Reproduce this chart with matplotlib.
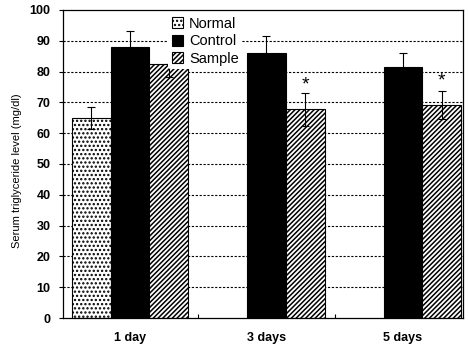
import matplotlib
matplotlib.use("Agg")
import matplotlib.pyplot as plt
import numpy as np

plt.rcParams['font.family'] = ['Liberation Sans', 'DejaVu Sans']
plt.rcParams['hatch.linewidth'] = 1.1

days = ["1 day", "3 days", "5 days"]
normal_val = [64.9]
normal_err = [3.6]
control_val = [88.1, 85.9, 81.4]
control_err = [5.0, 5.8, 4.5]
sample_val = [82.5, 67.8, 69.1]
sample_err_lo = [4.2, 5.4, 4.5]
sample_err_hi = [0.0, 5.4, 4.6]
star_y = [None, 75.8, 76.8]

fig = plt.figure(figsize=(4.69, 3.48), dpi=100)
ax = fig.add_axes([0.1343, 0.0862, 0.8529, 0.8851])

w = 0.2835
x = np.arange(len(days))

ekw = dict(ecolor='black', elinewidth=0.8, capsize=3, capthick=0.8)
ax.bar(x[:1] - w, normal_val, w, yerr=normal_err, color='white', edgecolor='black',
       hatch='....', linewidth=0.8, label='Normal', error_kw=ekw, zorder=2)
ax.bar(x, control_val, w, yerr=control_err, color='black', edgecolor='black',
       linewidth=0.8, label='Control', error_kw=ekw, zorder=2)
ax.bar(x + w, sample_val, w, yerr=[sample_err_lo, sample_err_hi], color='white', edgecolor='black',
       hatch='///////', linewidth=0.8, label='Sample', error_kw=ekw, zorder=2)

for xi, sy in zip(x, star_y):
    if sy is not None:
        ax.text(xi + w, sy, '*', ha='center', va='center', fontsize=14)

ax.set_ylim(0, 100)
ax.set_xlim(-0.491, 2.44)
ax.set_yticks(range(0, 101, 10))
ax.set_yticklabels([str(v) for v in range(0, 101, 10)], fontsize=9, fontweight='bold')
ax.set_xticks(x)
ax.set_xticklabels(days, fontsize=9, fontweight='bold')
ax.tick_params(axis='x', length=0, pad=10)
ax.tick_params(axis='y', length=3, width=0.8, direction='out', pad=6)
ax.set_xticks([0.5, 1.5], minor=True)
ax.tick_params(axis='x', which='minor', length=3, width=0.8, direction='in')

for yv in range(10, 100, 10):
    ax.axhline(yv, color='black', lw=0.8, ls=(0, (2, 1.5)), zorder=0)

for s in ax.spines.values():
    s.set_linewidth(0.9)

ax.set_ylabel('Serum triglyceride level (mg/dl)', fontsize=8)
ax.yaxis.set_label_coords(-0.103, 0.477)

leg = ax.legend(loc='upper left', bbox_to_anchor=(0.255, 1.0), frameon=True, fontsize=10.5,
                handlelength=0.8, handleheight=0.8, handletextpad=0.4, labelspacing=0.25,
                borderpad=0.25, borderaxespad=0.2)
leg.get_frame().set_edgecolor('none')
leg.get_frame().set_facecolor('white')
leg.get_frame().set_alpha(1)
leg.set_zorder(5)

fig.savefig('out.png', dpi=100)
